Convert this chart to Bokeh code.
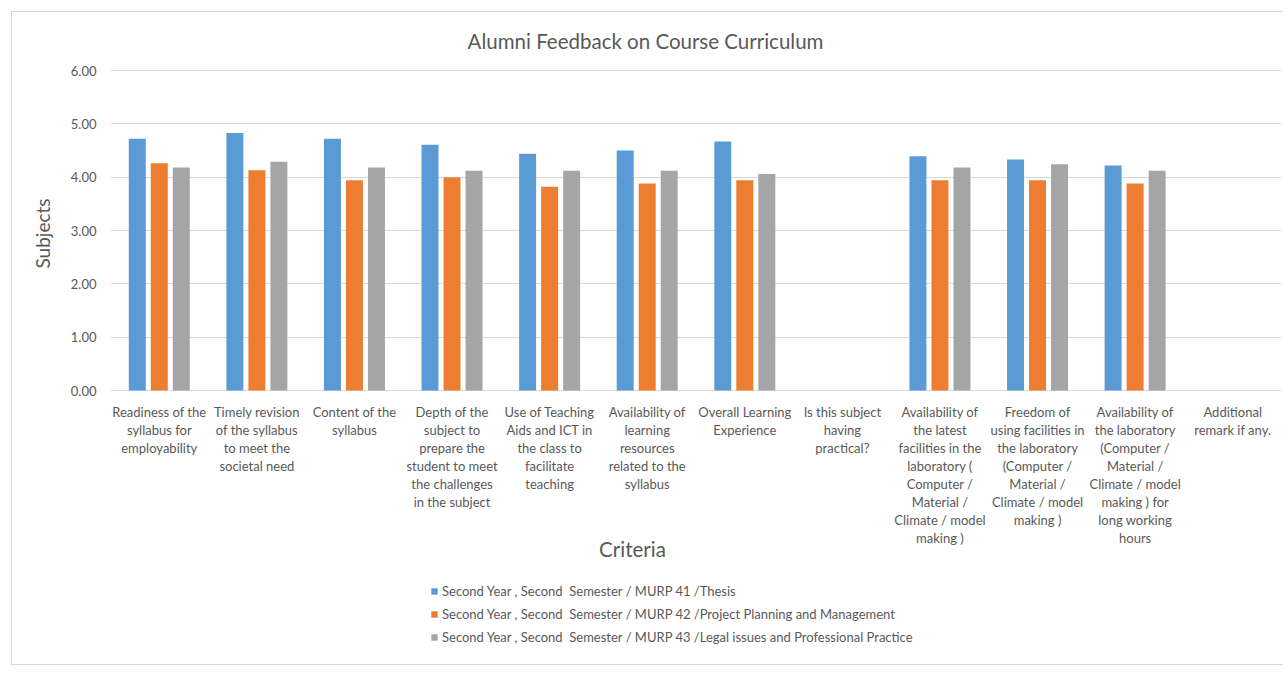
from bokeh.plotting import figure
from bokeh.models import (ColumnDataSource, FactorRange, Range1d, FixedTicker,
                          NumeralTickFormatter, Legend, LegendItem, Title)
from bokeh.core.properties import value
from bokeh.transform import dodge
from bokeh.embed import file_html
from bokeh.resources import INLINE

categories = [
    "Readiness of the\nsyllabus for\nemployability",
    "Timely revision\nof the syllabus\nto meet the\nsocietal need",
    "Content of the\nsyllabus",
    "Depth of the\nsubject to\nprepare the\nstudent to meet\nthe challenges\nin the subject",
    "Use of Teaching\nAids and ICT in\nthe class to\nfacilitate\nteaching",
    "Availability of\nlearning\nresources\nrelated to the\nsyllabus",
    "Overall Learning\nExperience",
    "Is this subject\nhaving\npractical?",
    "Availability of\nthe latest\nfacilities in the\nlaboratory (\nComputer /\nMaterial /\nClimate / model\nmaking )",
    "Freedom of\nusing facilities in\nthe laboratory\n(Computer /\nMaterial /\nClimate / model\nmaking )",
    "Availability of\nthe laboratory\n(Computer /\nMaterial /\nClimate / model\nmaking ) for\nlong working\nhours",
    "Additional\nremark if any.",
]

murp41 = [4.72, 4.83, 4.72, 4.61, 4.44, 4.50, 4.67, None, 4.39, 4.33, 4.22, None]
murp42 = [4.26, 4.13, 3.94, 4.00, 3.82, 3.88, 3.94, None, 3.94, 3.94, 3.88, None]
murp43 = [4.18, 4.29, 4.18, 4.12, 4.12, 4.12, 4.06, None, 4.18, 4.24, 4.12, None]

series_names = [
    "Second Year , Second  Semester / MURP 41 /Thesis",
    "Second Year , Second  Semester / MURP 42 /Project Planning and Management",
    "Second Year , Second  Semester / MURP 43 /Legal issues and Professional Practice",
]
y_ticks = [0, 1, 2, 3, 4, 5, 6]

title_text = "Alumni Feedback on Course Curriculum"
x_title = "Criteria"
y_title = "Subjects"

colors = ["#5B9BD5", "#ED7D31", "#A5A5A5"]
FONT = "Lato"
TXT = "#595959"

def clean(v):
    return [float("nan") if x is None else x for x in v]

src = ColumnDataSource(dict(cat=categories, s1=clean(murp41), s2=clean(murp42), s3=clean(murp43)))

H = 654
# frame covers the whole canvas height; value 0 sits 378 px below canvas top, 6 units = 320 px
PX = 320 / 6
Y_TOP = 378 / PX
Y_BOT = -(H - 378) / PX

p = figure(x_range=FactorRange(*categories, range_padding=0), y_range=Range1d(Y_BOT, Y_TOP),
           width=1272, height=H, min_border_left=98, min_border_right=3,
           min_border_top=0, min_border_bottom=0,
           output_backend="svg", toolbar_location=None,
           margin=(11, 0, 0, 11),
           styles={"border-left": "1px solid #d9d9d9", "border-top": "1px solid #d9d9d9",
                   "border-bottom": "1px solid #d9d9d9"})

w = 0.174
off = 0.2256
renderers = []
for i, (col, c) in enumerate(zip(["s1", "s2", "s3"], colors)):
    r = p.vbar(x=dodge("cat", (i - 1) * off, range=p.x_range), top=col, width=w,
               source=src, fill_color=c, line_color=None)
    renderers.append(r)

p.outline_line_color = None
p.background_fill_color = "white"
p.border_fill_color = "white"
p.xgrid.grid_line_color = None
p.ygrid.grid_line_color = "#d9d9d9"
p.ygrid.ticker = FixedTicker(ticks=y_ticks)

p.yaxis.ticker = FixedTicker(ticks=y_ticks)
p.yaxis.formatter = NumeralTickFormatter(format="0.00")
p.yaxis.axis_line_color = None
p.yaxis.major_tick_line_color = None
p.yaxis.minor_tick_line_color = None
p.yaxis.major_tick_out = 0
p.yaxis.major_tick_in = 0
p.yaxis.major_label_standoff = 14
p.yaxis.major_label_text_font = FONT
p.yaxis.major_label_text_font_size = "13px"
p.yaxis.major_label_text_color = TXT

p.xaxis.visible = False

yt = Title(text=y_title, align="left", offset=H - 256, standoff=28,
           text_font=FONT, text_font_size="19px", text_font_style="normal", text_color=TXT)
p.add_layout(yt, "left")

# category labels under the bars
p.text(x="cat", y=-0.245, text="cat", source=src, text_align="center", text_baseline="top",
       text_font=value(FONT), text_font_size="13px", text_color=TXT, text_line_height=1.13)

# chart title and x axis title
p.text(x=[5.4825], y=[(390 - 40) / PX], text=[title_text], text_align="center",
       text_baseline="middle", text_font=value(FONT), text_font_size="20.5px", text_color=TXT)
p.text(x=[5.349], y=[(390 - 548) / PX], text=[x_title], text_align="center",
       text_baseline="middle", text_font=value(FONT), text_font_size="20.5px", text_color=TXT)

legend = Legend(items=[LegendItem(label=n, renderers=[r]) for n, r in zip(series_names, renderers)],
                location=(320, H - 378 - 255), orientation="vertical",
                glyph_width=8, glyph_height=8, label_height=16, label_standoff=4,
                spacing=7, padding=0, margin=0, border_line_color=None,
                background_fill_alpha=0,
                label_text_font=FONT, label_text_font_size="13px", label_text_color=TXT)
p.add_layout(legend, "center")

open("out.html", "w").write(file_html(p, INLINE))
